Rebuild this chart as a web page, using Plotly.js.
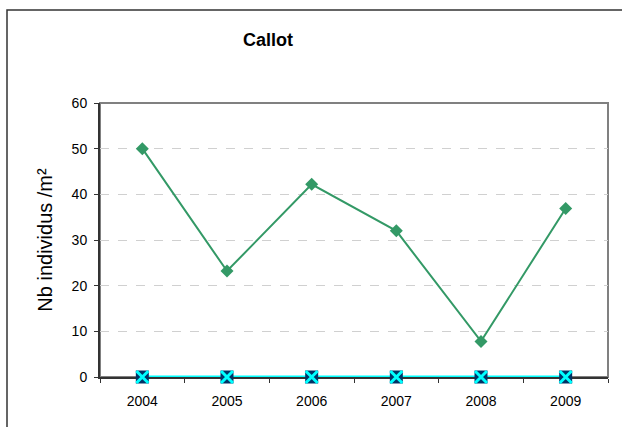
<!DOCTYPE html>
<html>
<head>
<meta charset="utf-8">
<script src="https://cdn.plot.ly/plotly-3.0.1.min.js"></script>
<style>html,body{margin:0;padding:0;background:#fff;}#chart{width:622px;height:427px;}</style>
</head>
<body>
<div id="chart"></div>
<script>
const years = ['2004', '2005', '2006', '2007', '2008', '2009'];
const callotValues = [50, 23.2, 42.2, 32, 7.8, 36.9];
const otherValues = [0, 0, 0, 0, 0, 0];
const yTicks = [0, 10, 20, 30, 40, 50, 60];

const font = '"Liberation Sans", Arial, sans-serif';

const traces = [
  {
    x: years, y: otherValues, type: 'scatter', mode: 'lines',
    line: {color: '#00FFFF', width: 3}, cliponaxis: false, showlegend: false, hoverinfo: 'skip'
  },
  {
    x: years, y: otherValues, type: 'scatter', mode: 'markers',
    marker: {symbol: 'square', size: 13, color: '#003366', line: {width: 0}},
    cliponaxis: false, showlegend: false
  },
  {
    x: years, y: otherValues, type: 'scatter', mode: 'markers',
    marker: {symbol: 'x-thin', size: 12, color: '#00FFFF', line: {color: '#00FFFF', width: 3}},
    cliponaxis: false, showlegend: false
  },
  {
    x: years, y: callotValues, type: 'scatter', mode: 'lines+markers',
    line: {color: '#339966', width: 2},
    marker: {symbol: 'diamond', size: 10, color: '#339966'},
    cliponaxis: false, showlegend: false
  }
];

const layout = {
  width: 622, height: 427,
  margin: {l: 100, r: 14, t: 103, b: 50},
  paper_bgcolor: '#ffffff', plot_bgcolor: '#ffffff',
  font: {family: font, size: 14, color: '#000'},
  title: {
    text: '<b>Callot</b>', font: {family: font, size: 18, color: '#000'},
    x: 268 / 622, xref: 'container', xanchor: 'center',
    y: 1 - 40 / 427, yref: 'container', yanchor: 'middle'
  },
  xaxis: {
    type: 'category', range: [-0.5, 5.5],
    showline: true, linecolor: '#333333', linewidth: 2,
    ticks: 'outside', tickson: 'boundaries', ticklen: 4, tickcolor: '#333333', tickwidth: 1,
    showgrid: false, zeroline: false, layer: 'below traces',
    tickfont: {family: font, size: 14, color: '#000'}, ticklabelstandoff: 10
  },
  yaxis: {
    range: [0, 60], tickvals: yTicks, ticktext: yTicks.map(String),
    showline: true, linecolor: '#333333', linewidth: 2,
    ticks: 'outside', ticklen: 4, tickcolor: '#333333', tickwidth: 1,
    showgrid: true, gridcolor: '#d0d0d0', griddash: 'dash', gridwidth: 1,
    zeroline: false, layer: 'below traces',
    tickfont: {family: font, size: 14, color: '#000'}, ticklabelstandoff: 4,
    title: {text: 'Nb individus /m²', font: {family: font, size: 20, color: '#000'}, standoff: 14}
  },
  shapes: [
    {type: 'rect', xref: 'paper', yref: 'paper', x0: 0, x1: 1, y0: 0, y1: 1,
     line: {color: '#808080', width: 2}, layer: 'below'},
    {type: 'rect', xref: 'paper', yref: 'paper',
     x0: (7 - 100) / 508, x1: (630 - 100) / 508, y0: (377 - 440) / 274, y1: (377 - 10) / 274,
     line: {color: '#333333', width: 1.5}, layer: 'below'}
  ]
};

Plotly.newPlot('chart', traces, layout, {displayModeBar: false, staticPlot: true});
</script>
</body>
</html>
